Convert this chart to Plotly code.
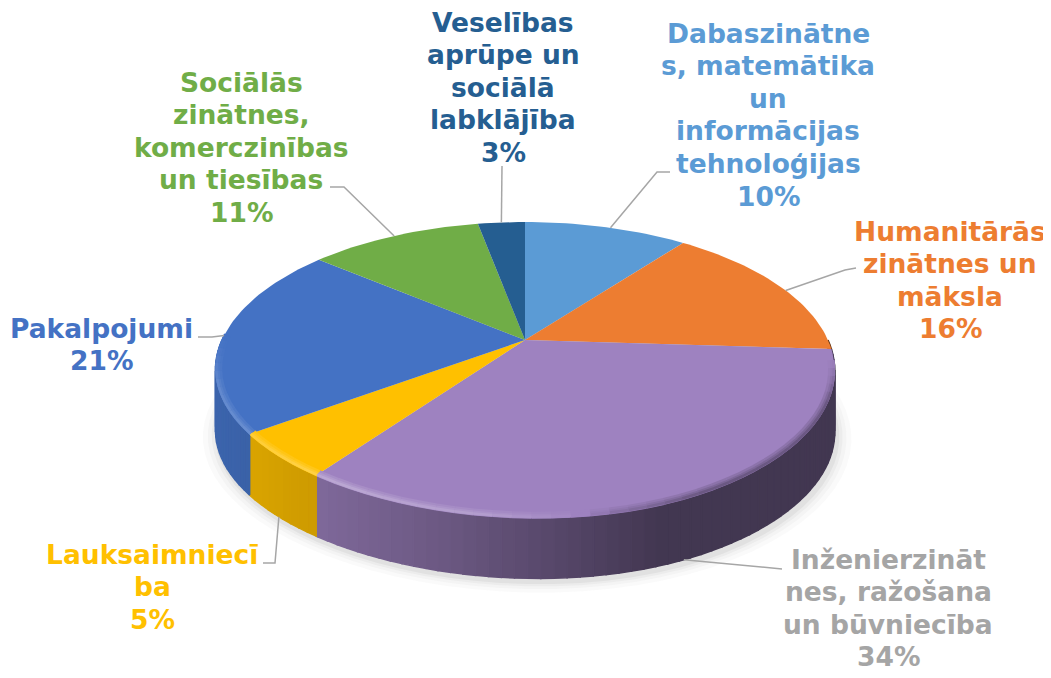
import math
import plotly.graph_objects as go

categories = [
    "Dabaszinātne|s, matemātika|un|informācijas|tehnoloģijas",
    "Humanitārās|zinātnes un|māksla",
    "Inženierzināt|nes, ražošana|un būvniecība",
    "Lauksaimniecī|ba",
    "Pakalpojumi",
    "Sociālās|zinātnes,|komerczinības|un tiesības",
    "Veselības|aprūpe un|sociālā|labklājība",
]
shares = [10.4, 15.6, 34, 5, 21, 11, 3]

colors = ["#5B9BD5", "#ED7D31", "#9E82C0", "#FFC000", "#4472C4", "#70AD47", "#255E91"]
text_colors = ["#5B9BD5", "#ED7D31", "#A5A5A5", "#FFC000", "#4472C4", "#70AD47", "#255E91"]
label_x = [768, 950, 888, 152, 101, 241, 503]
label_y = [33, 231, 559, 554, 328, 82, 22]
PITCH = 32.6
FONT = 26.5
elbows = [[(657, 172), (670, 172)], [(845, 270), (856, 268)], [(782, 569)],
          [(275, 563), (263, 563)], [(212, 337), (198, 337)], [(344, 187), (330, 187)], [(502, 166)]]
anchor_shift = [1, 2.5, 0, 0, 0, 0, 0]
lower = [False, False, True, True, False, False, False]

CX, CY, A, B, K, DEPTH = 525, 340, 303, 142.5, 0.208, 61


def proj(deg, r=1.0, dy=0.0):
    deg = deg % 360
    if 150 < deg < 265:
        r *= 1 - 0.022 * math.sin(math.pi * (deg - 150) / 115) ** 2
    t = math.radians(deg)
    u, v = r * math.sin(t), r * math.cos(t)
    d = 1 + K * v
    return CX + A * u / d, CY - B * v / d + dy


def hex_rgb(h):
    return tuple(int(h[i:i + 2], 16) for i in (1, 3, 5))


def mix(rgb, f):
    if f >= 0:
        c = [x + (255 - x) * f for x in rgb]
    else:
        c = [x * (1 + f) for x in rgb]
    return "rgb(%d,%d,%d)" % tuple(round(x) for x in c)


def interp(x, pts):
    if x <= pts[0][0]:
        return pts[0][1]
    for (a, fa), (b, fb) in zip(pts, pts[1:]):
        if x <= b:
            return fa + (fb - fa) * (x - a) / (b - a)
    return pts[-1][1]


SIDE = [(215, -0.12), (320, -0.20), (450, -0.33), (560, -0.46), (660, -0.58), (835, -0.58)]
RIM = [(215, 0.16), (330, 0.30), (480, 0.22), (570, 0.04), (620, -0.15), (700, -0.32), (835, -0.32)]

fig = go.Figure()


def poly(xs, ys, fill, line=None, w=1):
    fig.add_trace(go.Scatter(x=xs, y=ys, mode="lines", fill="toself", fillcolor=fill,
                             line=dict(color=line or "rgba(0,0,0,0)", width=w if line else 0),
                             hoverinfo="skip", showlegend=False))


for grow, alpha in [(1.045, 0.03), (1.03, 0.04), (1.018, 0.05), (1.008, 0.07)]:
    pts = [proj(d, grow, DEPTH + 4) for d in range(0, 361, 4)]
    poly([p[0] + 2 for p in pts], [p[1] for p in pts], "rgba(90,90,90,%.2f)" % alpha)

edges = [0]
for s in shares:
    edges.append(edges[-1] + s * 3.6)

for i, c in enumerate(colors):
    rgb = hex_rgb(c)
    lo, hi = max(edges[i], 90), min(edges[i + 1], 270)
    d = lo
    while d < hi:
        e = min(d + 2, hi)
        p0, p1 = proj(d), proj(e)
        f = interp((p0[0] + p1[0]) / 2, SIDE)
        col = mix(rgb, f)
        poly([p0[0], p1[0], p1[0], p0[0], p0[0]],
             [p0[1], p1[1], p1[1] + DEPTH, p0[1] + DEPTH, p0[1]], col, col, 1.5)
        d = e

for i, c in enumerate(colors):
    a0, a1 = edges[i], edges[i + 1]
    n = max(4, int((a1 - a0) / 1.5))
    pts = [proj(a0 + (a1 - a0) * j / n) for j in range(n + 1)]
    poly([CX] + [p[0] for p in pts] + [CX], [CY] + [p[1] for p in pts] + [CY], c)

for width, rr, gain in [(7, 0.990, 0.35), (4.5, 0.994, 0.65), (2.5, 0.997, 1.0)]:
    for i, c in enumerate(colors):
        rgb = hex_rgb(c)
        lo, hi = max(edges[i], 98), min(edges[i + 1], 272)
        d = lo
        while d < hi:
            e = min(d + 3, hi)
            p0, p1 = proj(d, rr), proj(e, rr)
            fade = min(1.0, (d - 96) / 16.0, (272 - e) / 18.0)
            f = interp((p0[0] + p1[0]) / 2, RIM) * gain * max(fade, 0.0)
            fig.add_trace(go.Scatter(x=[p0[0], p1[0]], y=[p0[1], p1[1]], mode="lines",
                                     line=dict(color=mix(rgb, f), width=width),
                                     hoverinfo="skip", showlegend=False))
            d = e

ann = []
for i, name in enumerate(categories):
    mid = (edges[i] + edges[i + 1]) / 2 + anchor_shift[i]
    start = proj(mid, 1.0, DEPTH if lower[i] else 0)
    xs = [start[0]] + [p[0] for p in elbows[i]]
    ys = [start[1]] + [p[1] for p in elbows[i]]
    fig.add_trace(go.Scatter(x=xs, y=ys, mode="lines", line=dict(color="#A6A6A6", width=1.5),
                             hoverinfo="skip", showlegend=False))
    lines = name.split("|") + ["%d%%" % round(shares[i])]
    for j, t in enumerate(lines):
        ann.append(dict(x=label_x[i], y=label_y[i] + j * PITCH, text="<b>%s</b>" % t, showarrow=False,
                        xanchor="center", yanchor="middle", xref="x", yref="y",
                        font=dict(family="DejaVu Sans", size=FONT, color=text_colors[i])))

fig.update_layout(
    width=1043, height=670, margin=dict(l=0, r=0, t=0, b=0),
    paper_bgcolor="white", plot_bgcolor="white", showlegend=False,
    xaxis=dict(range=[8, 1051], visible=False, fixedrange=True),
    yaxis=dict(range=[678, 8], visible=False, fixedrange=True),
    annotations=ann,
)
fig.write_html("out.html", config=dict(displayModeBar=False))
